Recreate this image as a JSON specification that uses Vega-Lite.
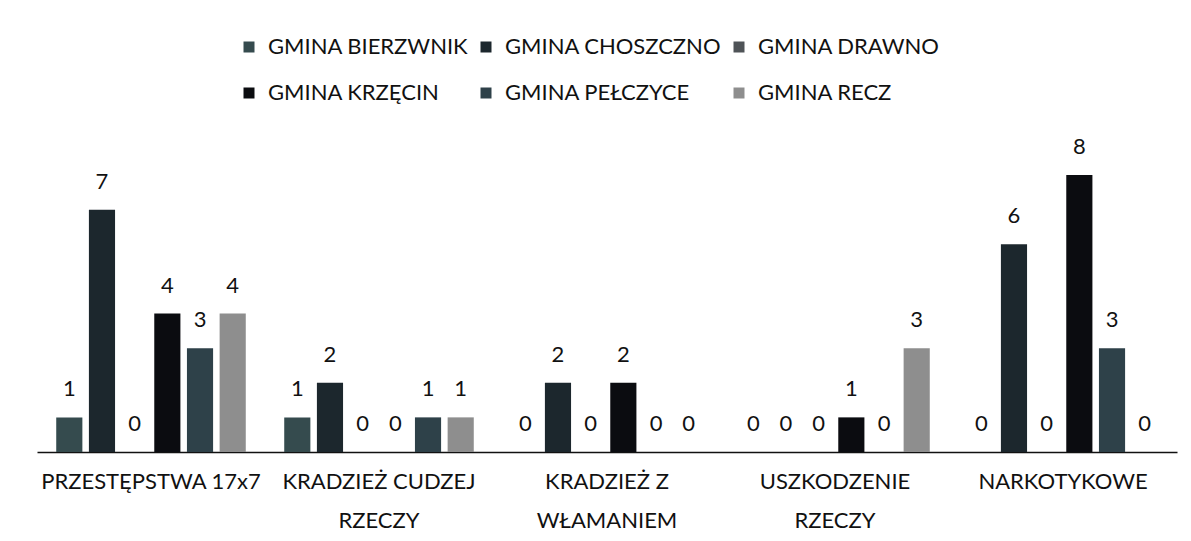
{
  "$schema": "https://vega.github.io/schema/vega-lite/v6.json",
  "width": 1140,
  "height": 277,
  "autosize": {"type": "none"},
  "padding": {"left": 37, "top": 175, "right": 14, "bottom": 89},
  "background": "white",
  "config": {
    "view": {"stroke": null},
    "font": "Lato",
    "text": {"font": "Lato"}
  },
  "data": {
    "values": [
      {"kategoria": "PRZESTĘPSTWA 17x7", "gmina": "GMINA BIERZWNIK", "liczba": 1},
      {"kategoria": "PRZESTĘPSTWA 17x7", "gmina": "GMINA CHOSZCZNO", "liczba": 7},
      {"kategoria": "PRZESTĘPSTWA 17x7", "gmina": "GMINA DRAWNO", "liczba": 0},
      {"kategoria": "PRZESTĘPSTWA 17x7", "gmina": "GMINA KRZĘCIN", "liczba": 4},
      {"kategoria": "PRZESTĘPSTWA 17x7", "gmina": "GMINA PEŁCZYCE", "liczba": 3},
      {"kategoria": "PRZESTĘPSTWA 17x7", "gmina": "GMINA RECZ", "liczba": 4},
      {"kategoria": "KRADZIEŻ CUDZEJ RZECZY", "gmina": "GMINA BIERZWNIK", "liczba": 1},
      {"kategoria": "KRADZIEŻ CUDZEJ RZECZY", "gmina": "GMINA CHOSZCZNO", "liczba": 2},
      {"kategoria": "KRADZIEŻ CUDZEJ RZECZY", "gmina": "GMINA DRAWNO", "liczba": 0},
      {"kategoria": "KRADZIEŻ CUDZEJ RZECZY", "gmina": "GMINA KRZĘCIN", "liczba": 0},
      {"kategoria": "KRADZIEŻ CUDZEJ RZECZY", "gmina": "GMINA PEŁCZYCE", "liczba": 1},
      {"kategoria": "KRADZIEŻ CUDZEJ RZECZY", "gmina": "GMINA RECZ", "liczba": 1},
      {"kategoria": "KRADZIEŻ Z WŁAMANIEM", "gmina": "GMINA BIERZWNIK", "liczba": 0},
      {"kategoria": "KRADZIEŻ Z WŁAMANIEM", "gmina": "GMINA CHOSZCZNO", "liczba": 2},
      {"kategoria": "KRADZIEŻ Z WŁAMANIEM", "gmina": "GMINA DRAWNO", "liczba": 0},
      {"kategoria": "KRADZIEŻ Z WŁAMANIEM", "gmina": "GMINA KRZĘCIN", "liczba": 2},
      {"kategoria": "KRADZIEŻ Z WŁAMANIEM", "gmina": "GMINA PEŁCZYCE", "liczba": 0},
      {"kategoria": "KRADZIEŻ Z WŁAMANIEM", "gmina": "GMINA RECZ", "liczba": 0},
      {"kategoria": "USZKODZENIE RZECZY", "gmina": "GMINA BIERZWNIK", "liczba": 0},
      {"kategoria": "USZKODZENIE RZECZY", "gmina": "GMINA CHOSZCZNO", "liczba": 0},
      {"kategoria": "USZKODZENIE RZECZY", "gmina": "GMINA DRAWNO", "liczba": 0},
      {"kategoria": "USZKODZENIE RZECZY", "gmina": "GMINA KRZĘCIN", "liczba": 1},
      {"kategoria": "USZKODZENIE RZECZY", "gmina": "GMINA PEŁCZYCE", "liczba": 0},
      {"kategoria": "USZKODZENIE RZECZY", "gmina": "GMINA RECZ", "liczba": 3},
      {"kategoria": "NARKOTYKOWE", "gmina": "GMINA BIERZWNIK", "liczba": 0},
      {"kategoria": "NARKOTYKOWE", "gmina": "GMINA CHOSZCZNO", "liczba": 6},
      {"kategoria": "NARKOTYKOWE", "gmina": "GMINA DRAWNO", "liczba": 0},
      {"kategoria": "NARKOTYKOWE", "gmina": "GMINA KRZĘCIN", "liczba": 8},
      {"kategoria": "NARKOTYKOWE", "gmina": "GMINA PEŁCZYCE", "liczba": 3},
      {"kategoria": "NARKOTYKOWE", "gmina": "GMINA RECZ", "liczba": 0}
    ]
  },
  "encoding": {
    "x": {
      "field": "kategoria",
      "type": "nominal",
      "sort": null,
      "scale": {"paddingInner": 0.14, "paddingOuter": 0.07},
      "axis": {
        "title": null,
        "labelAngle": 0,
        "labelFont": "Lato",
        "labelFontSize": 22,
        "labelColor": "#111111",
        "labelPadding": 19,
        "labelLineHeight": 39,
        "labelLimit": 400,
        "ticks": false,
        "domainColor": "#111111",
        "domainWidth": 1.5,
        "labelExpr": "datum.label == 'PRZESTĘPSTWA 17x7' || datum.label == 'NARKOTYKOWE' ? datum.label : [slice(datum.label, 0, lastindexof(datum.label, ' ')), slice(datum.label, lastindexof(datum.label, ' ') + 1)]"
      }
    },
    "xOffset": {
      "field": "gmina",
      "type": "nominal",
      "sort": null,
      "scale": {"paddingInner": 0.2, "paddingOuter": 0.1}
    },
    "y": {
      "field": "liczba",
      "type": "quantitative",
      "scale": {"domain": [0, 8], "nice": false},
      "axis": null
    }
  },
  "layer": [
    {
      "mark": {"type": "bar"},
      "encoding": {
        "color": {
          "field": "gmina",
          "type": "nominal",
          "sort": null,
          "scale": {
            "domain": ["GMINA BIERZWNIK", "GMINA CHOSZCZNO", "GMINA DRAWNO", "GMINA KRZĘCIN", "GMINA PEŁCZYCE", "GMINA RECZ"],
            "range": ["#354b4e", "#1c272d", "#4f5357", "#0b0c10", "#2e4149", "#8e8e8e"]
          },
          "legend": {
            "title": null,
            "orient": "none",
            "direction": "horizontal",
            "legendX": 201,
            "legendY": -139,
            "columns": 3,
            "symbolType": "square",
            "symbolSize": 121,
            "symbolStrokeWidth": 0,
            "labelFont": "Lato",
            "labelFontSize": 22,
            "labelLimit": 400,
            "labelColor": "#111111",
            "rowPadding": 24,
            "columnPadding": 6,
            "labelOffset": 8
          }
        }
      }
    },
    {
      "mark": {"type": "text", "baseline": "middle", "dy": -28, "font": "Lato", "fontSize": 22, "color": "#111111"},
      "encoding": {
        "text": {"field": "liczba", "type": "quantitative"}
      }
    }
  ]
}
